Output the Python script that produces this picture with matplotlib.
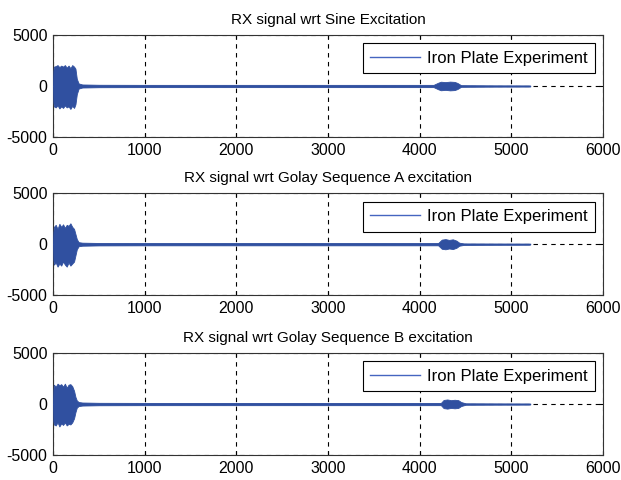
import matplotlib.pyplot as plt
import matplotlib

matplotlib.rc('font', family=['Liberation Sans', 'DejaVu Sans'], size=11)
matplotlib.rcParams['axes.unicode_minus'] = False

titles = ['RX signal wrt Sine Excitation',
          'RX signal wrt Golay Sequence A excitation',
          'RX signal wrt Golay Sequence B excitation']
legend_label = 'Iron Plate Experiment'
xticks = [0, 1000, 2000, 3000, 4000, 5000, 6000]
yticks = [-5000, 0, 5000]

# envelope of the received signal (sample index, upper / lower amplitude)
sine_x = [0, 4, 10, 30, 50, 70, 90, 110, 130, 150, 170, 190, 210, 230, 245, 260, 280, 320,
          500, 1000, 3000, 4150, 4200, 4230, 4280, 4330, 4380, 4410, 4450, 4800, 5200]
sine_hi = [0, 1500, 1900, 1950, 2050, 1850, 2000, 1900, 2050, 1800, 2000, 1750, 2050, 1900, 1700, 700, 250, 150,
           120, 110, 110, 110, 320, 420, 380, 430, 400, 300, 80, 60, 50]
sine_lo = [0, -1600, -2000, -2100, -1900, -2200, -2000, -2150, -1900, -2100, -2000, -2250, -1950, -2150, -1800, -800, -250, -150,
           -120, -110, -110, -110, -320, -420, -380, -430, -400, -300, -80, -60, -50]

gola_x = [0, 4, 10, 30, 50, 70, 90, 110, 130, 150, 170, 190, 210, 230, 245, 260, 280, 320,
          500, 1000, 3000, 4200, 4240, 4280, 4320, 4360, 4400, 4430, 4480, 4800, 5200]
gola_hi = [0, 1200, 1700, 1900, 1500, 2000, 1700, 1950, 1600, 1900, 1800, 2050, 1700, 1500, 1000, 500, 200, 150,
           120, 110, 110, 110, 450, 500, 420, 480, 350, 150, 70, 60, 50]
gola_lo = [0, -1500, -2000, -1800, -2200, -1900, -2100, -1700, -2000, -2200, -1800, -2100, -1900, -1700, -1100, -500, -200, -150,
           -120, -110, -110, -110, -450, -500, -420, -480, -350, -150, -70, -60, -50]

golb_x = [0, 4, 10, 30, 50, 70, 90, 110, 130, 150, 170, 190, 210, 230, 245, 260, 280, 320,
          500, 1000, 3000, 4230, 4260, 4300, 4340, 4380, 4420, 4450, 4500, 4800, 5200]
golb_hi = [0, 1400, 1900, 1700, 2000, 1850, 1950, 1700, 2000, 1600, 1900, 1950, 1750, 1300, 700, 350, 200, 150,
           120, 110, 110, 110, 400, 450, 380, 420, 380, 200, 70, 60, 50]
golb_lo = [0, -1700, -2000, -2100, -1800, -2200, -1900, -2050, -1800, -2100, -1950, -2000, -1800, -1400, -800, -350, -200, -150,
           -120, -110, -110, -110, -400, -450, -380, -420, -380, -200, -70, -60, -50]

series = [(sine_x, sine_hi, sine_lo), (gola_x, gola_hi, gola_lo), (golb_x, golb_hi, golb_lo)]

color = '#3050a0'

fig = plt.figure(figsize=(6.21, 4.8), dpi=100)
bottoms = [0.7146, 0.385, 0.052]

for title, (x, hi, lo), b in zip(titles, series, bottoms):
    ax = fig.add_axes([0.0853, b, 0.886, 0.2125])
    ax.fill_between(x, lo, hi, color=color, linewidth=0.6, zorder=3)
    ax.plot([x[0], x[-1]], [0, 0], color=color, linewidth=1.0, zorder=3)
    ax.plot([], [], color='#4565c0', linewidth=1.0, label=legend_label)
    ax.set_xlim(0, 6000)
    ax.set_ylim(-5000, 5000)
    ax.set_xticks(xticks)
    ax.set_yticks(yticks)
    ax.grid(True, color='black', linestyle=(0, (4, 4)), linewidth=0.8)
    ax.tick_params(direction='in', top=True, right=True, length=3, labelsize=11.5, pad=4)
    ax.set_title(title, fontsize=11, pad=8)
    for s in ax.spines.values():
        s.set_color('#333333')
    leg = ax.legend(loc='upper right', fancybox=False, edgecolor='black', framealpha=1,
                    fontsize=12, handlelength=3.0, handletextpad=0.4,
                    borderpad=0.45, borderaxespad=0.5)
    leg.get_frame().set_linewidth(0.8)

fig.savefig('out.png', dpi=100)
